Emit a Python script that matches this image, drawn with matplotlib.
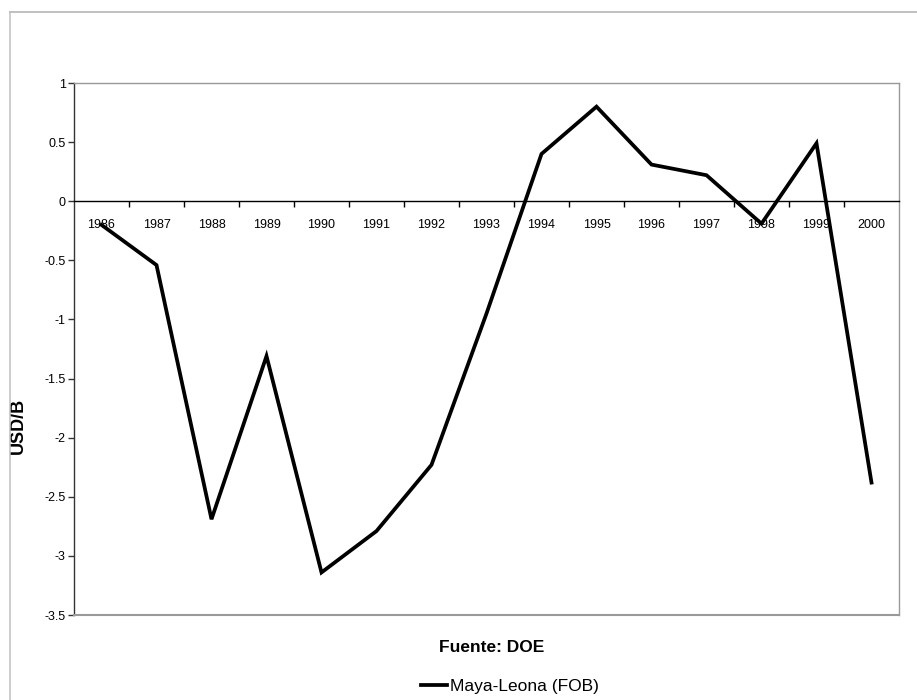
import matplotlib
matplotlib.use("Agg")
import matplotlib.pyplot as plt
from matplotlib.lines import Line2D
import numpy as np

plt.rcParams['font.family'] = ['Liberation Sans', 'DejaVu Sans']

years = ['1986', '1987', '1988', '1989', '1990', '1991', '1992', '1993',
         '1994', '1995', '1996', '1997', '1998', '1999', '2000']
spread = [-0.20, -0.54, -2.69, -1.31, -3.14, -2.79, -2.23, -0.95,
          0.40, 0.80, 0.31, 0.22, -0.19, 0.49, -2.38]
series_name = 'Maya-Leona (FOB)'
y_ticks = [1, 0.5, 0, -0.5, -1, -1.5, -2, -2.5, -3, -3.5]

W, H = 917, 700
fig = plt.figure(figsize=(W / 100, H / 100), dpi=100)
fig.patch.set_facecolor('white')

# chart area frame (open on right and bottom)
border = '#c0c0c0'
fig.add_artist(Line2D([9.5 / W, 1.0], [1 - 12 / H, 1 - 12 / H],
                      transform=fig.transFigure, color=border, lw=1.4))
fig.add_artist(Line2D([9.5 / W, 9.5 / W], [0.0, 1 - 12 / H],
                      transform=fig.transFigure, color=border, lw=1.1))

left, right, top, bottom = 74, 899, 83, 615
ax = fig.add_axes([left / W, 1 - bottom / H, (right - left) / W, (bottom - top) / H])

x = np.arange(len(years))
line, = ax.plot(x, spread, color='black', lw=2.7, solid_joinstyle='miter',
                label=series_name)

ax.set_xlim(-0.5, len(years) - 0.5)
ax.set_ylim(-3.5, 1)

# category axis sits on the zero line
ax.spines['bottom'].set_position(('data', 0))
ax.spines['bottom'].set_color('black')
ax.spines['bottom'].set_linewidth(1.0)
ax.spines['left'].set_color('#333333')
ax.spines['left'].set_linewidth(1.0)
for s in ('top', 'right'):
    ax.spines[s].set_color('#999999')
    ax.spines[s].set_linewidth(1.0)
ax.axhline(-3.5, color='#999999', lw=1.5, clip_on=False, zorder=3)

ax.set_xticks(x)
ax.set_xticklabels(years)
ax.set_xticks(np.arange(0.5, len(years) - 0.5, 1.0), minor=True)
ax.tick_params(axis='x', which='major', length=0, pad=13, labelsize=9)
ax.tick_params(axis='x', which='minor', direction='out', length=4,
               width=1, color='black')

ax.set_yticks(y_ticks)
ax.set_yticklabels([f'{v:g}' for v in y_ticks])
ax.tick_params(axis='y', direction='out', length=4, width=1, pad=2,
               labelsize=9, color='#333333')

ax.set_ylabel('USD/B', fontsize=13, fontweight='bold', labelpad=14)
ax.yaxis.set_label_coords((27 - left) / (right - left), 0.5 - (426 - (top + bottom) / 2) / (bottom - top))

fig.text(492 / W, 1 - 648 / H, 'Fuente: DOE', ha='center', va='center',
         fontsize=12.5, fontweight='bold')

fig.legend(handles=[line], loc='center', bbox_to_anchor=(510 / W, 1 - 686 / H),
           frameon=False, fontsize=12.5, handlelength=1.5, handletextpad=0.15,
           borderpad=0, borderaxespad=0)

fig.savefig('out.png', dpi=100, facecolor='white')
